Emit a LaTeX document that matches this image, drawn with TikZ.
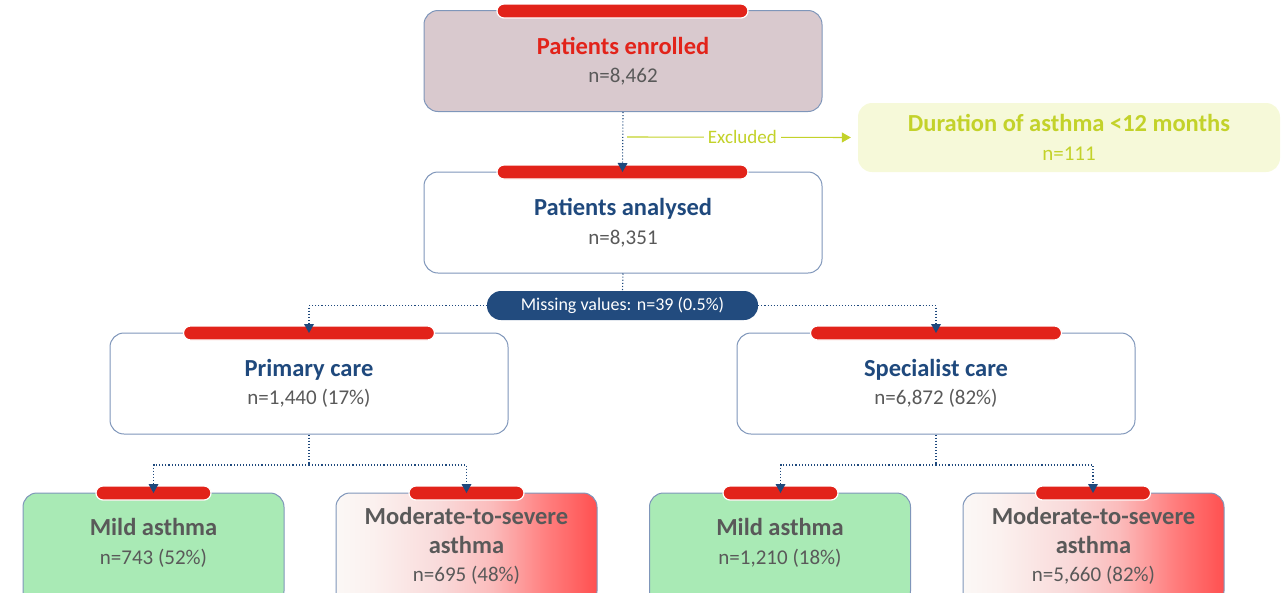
\documentclass[tikz,border=0pt]{standalone}
\usepackage{fontspec}
\setmainfont{Carlito}
\usetikzlibrary{arrows.meta}
\definecolor{boxborder}{HTML}{7F96BA}
\definecolor{enrfill}{HTML}{D9C9CE}
\definecolor{barred}{HTML}{E2231A}
\definecolor{navy}{HTML}{1F497D}
\definecolor{pillblue}{HTML}{224B7E}
\definecolor{txtgrey}{HTML}{595959}
\definecolor{ygreen}{HTML}{C3D22A}
\definecolor{exfill}{HTML}{F6F9D9}
\definecolor{mildgreen}{HTML}{A9EAB5}
\definecolor{modwhite}{HTML}{FBF8F6}
\definecolor{modw2}{HTML}{FBF1EF}
\definecolor{modpink}{HTML}{F9DADA}
\definecolor{modpink2}{HTML}{FBBBBB}
\definecolor{modred2}{HTML}{FF8080}
\definecolor{modred}{HTML}{FF5050}
\pgfdeclarehorizontalshading{modshade}{100bp}{color(0bp)=(modwhite); color(25bp)=(modwhite); color(32bp)=(modw2); color(45bp)=(modpink); color(55bp)=(modpink2); color(65bp)=(modred2); color(75bp)=(modred); color(100bp)=(modred)}
\newcommand{\ttl}[2]{\fontsize{24.5}{28.5}\selectfont\bfseries\color{#1}#2}
\newcommand{\nnl}[2]{\fontsize{21}{28.5}\selectfont\mdseries\color{#1}#2}
\tikzset{
  flowtext/.style={align=center, inner sep=0pt, font=\fontsize{21}{28.5}\selectfont},
  flowbox/.style={flowtext, draw=boxborder, line width=1pt, rounded corners=14pt, minimum width=398pt, minimum height=101pt, fill=white},
  smallbox/.style={flowbox, minimum width=261pt, minimum height=112pt},
  redbar/.style={fill=barred, draw=white, line width=1.2pt, rounded corners=7pt, minimum height=14pt, inner sep=0pt},
  flowarrow/.style={draw=navy, dotted, line width=1.1pt, -{Triangle[width=10pt,length=9pt,fill=navy,line width=0pt]}},
  flowline/.style={draw=navy, dotted, line width=1.1pt},
}
\begin{document}
\begin{tikzpicture}[x=1pt,y=-1pt]
\useasboundingbox (0,0) rectangle (1281,592);
\clip (0,0) rectangle (1281,592);
% main boxes
\node[flowbox, fill=enrfill] (enr) at (623,61) {\ttl{barred}{Patients enrolled}\\\nnl{txtgrey}{n=8,462}};
\node[flowbox] (ana) at (623,222.5) {\ttl{navy}{Patients analysed}\\\nnl{txtgrey}{n=8,351}};
\node[flowtext, draw=none, fill=exfill, rounded corners=14pt, minimum width=422pt, minimum height=69pt] (excl) at (1069,137.5)
  {\ttl{ygreen}{Duration of asthma <12 months}\\\nnl{ygreen}{n=111}};
\node[fill=pillblue, rounded corners=14pt, minimum width=271pt, minimum height=29pt, inner sep=0pt, text=white, font=\fontsize{18}{20}\selectfont] (miss) at (622.5,305.5) {Missing values: n=39 (0.5\%)};
\node[flowbox] (prim) at (309,383.5) {\ttl{navy}{Primary care}\\\nnl{txtgrey}{n=1,440 (17\%)}};
\node[flowbox] (spec) at (936,383.5) {\ttl{navy}{Specialist care}\\\nnl{txtgrey}{n=6,872 (82\%)}};
% bottom boxes
\node[smallbox, fill=mildgreen] (mildL) at (153.5,549) {};
\node[smallbox, shading=modshade] (modL) at (466.5,549) {};
\node[smallbox, fill=mildgreen] (mildR) at (780,549) {};
\node[smallbox, shading=modshade] (modR) at (1093.5,549) {};
\node[flowtext] (tMildL) at (153.5,543) {\ttl{txtgrey}{Mild asthma}\\\nnl{txtgrey}{n=743 (52\%)}};
\node[flowtext] (tModL) at (466.5,546) {\ttl{txtgrey}{Moderate-to-severe}\\\ttl{txtgrey}{asthma}\\\nnl{txtgrey}{n=695 (48\%)}};
\node[flowtext] (tMildR) at (780,543) {\ttl{txtgrey}{Mild asthma}\\\nnl{txtgrey}{n=1,210 (18\%)}};
\node[flowtext] (tModR) at (1093.5,546) {\ttl{txtgrey}{Moderate-to-severe}\\\ttl{txtgrey}{asthma}\\\nnl{txtgrey}{n=5,660 (82\%)}};
% red bars
\node[redbar, minimum width=251pt] (bEnr) at (622.5,11) {};
\node[redbar, minimum width=251pt] (bAna) at (622.5,172) {};
\node[redbar, minimum width=251pt] (bPrim) at (309,333) {};
\node[redbar, minimum width=251pt] (bSpec) at (936,333) {};
\node[redbar, minimum width=115pt] (bMildL) at (153.5,493) {};
\node[redbar, minimum width=115pt] (bModL) at (466.5,493) {};
\node[redbar, minimum width=115pt] (bMildR) at (780.5,493) {};
\node[redbar, minimum width=115pt] (bModR) at (1093,493) {};
% connectors
\draw[flowarrow] (enr.south) -- (bAna.center);
\coordinate (exs) at (627,137);
\draw[draw=ygreen, line width=1.1pt, -{Triangle[width=10pt,length=9pt]}, shorten >=7pt] (exs) -- node[fill=white, inner sep=4pt, text=ygreen, font=\fontsize{19}{20}\selectfont] (exlab) {Excluded} (excl.west);
\draw[flowline] (ana.south) -- (miss.north);
\draw[flowarrow] (miss.west) -| (bPrim.center);
\draw[flowarrow] (miss.east) -| (bSpec.center);
\coordinate (jL) at (309,465);
\coordinate (jR) at (936,465);
\draw[flowline] (prim.south) -- (jL);
\draw[flowarrow] (jL) -| (bMildL.center);
\draw[flowarrow] (jL) -| (bModL.center);
\draw[flowline] (spec.south) -- (jR);
\draw[flowarrow] (jR) -| (bMildR.center);
\draw[flowarrow] (jR) -| (bModR.center);
\end{tikzpicture}
\end{document}
